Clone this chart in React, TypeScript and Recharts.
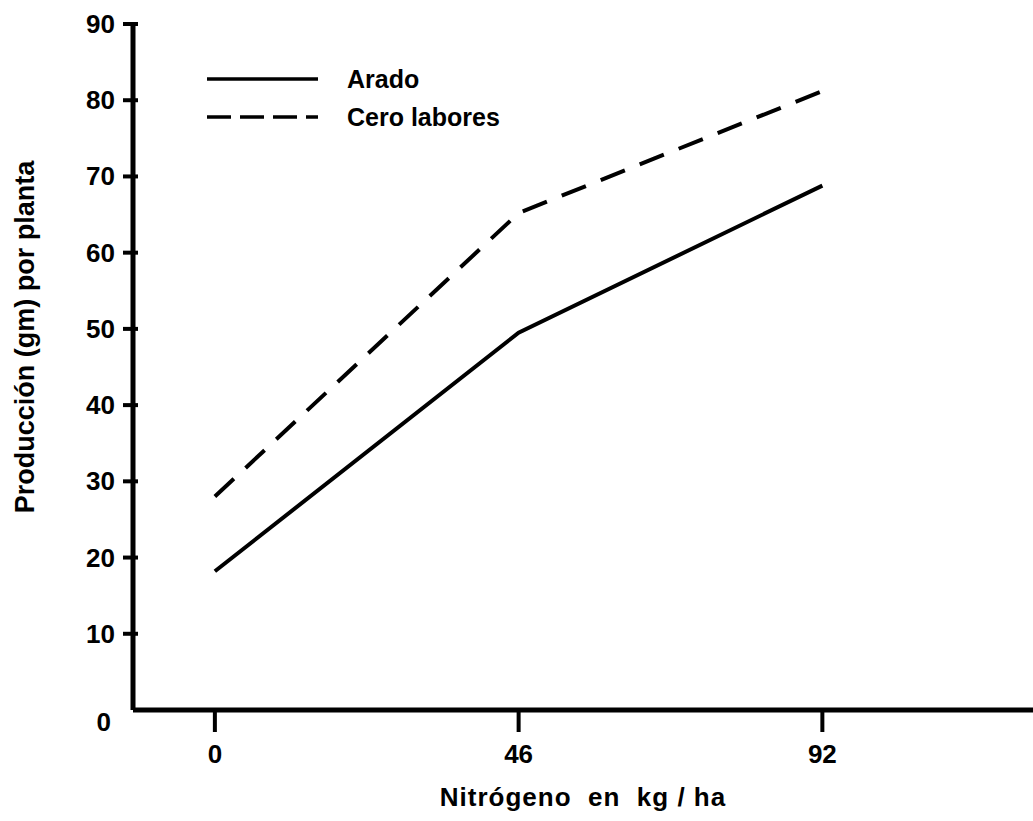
import { LineChart, Line, XAxis, YAxis } from 'recharts';

const nitrogen = [0, 46, 92];
const arado = [18.2, 49.5, 68.8];
const ceroLabores = [28, 65.2, 81.2];
const yTicks = [0, 10, 20, 30, 40, 50, 60, 70, 80, 90];
const xTicks = [0, 46, 92];
const seriesNames = ['Arado', 'Cero labores'];

const data = nitrogen.map((n, i) => ({ n, arado: arado[i], cero: ceroLabores[i] }));

const FONT = '"Liberation Sans", Arial, sans-serif';

const YTick = ({ x, y, payload }: any) => {
    const isZero = payload.value === 0;
    return (
        <g>
            {!isZero && <line x1={x - 2} y1={y} x2={x + 13} y2={y} stroke="#000" strokeWidth={4} />}
            <text
                x={isZero ? x - 14 : x - 10}
                y={isZero ? y + 12 : y}
                textAnchor="end"
                dominantBaseline="central"
                fontFamily={FONT}
                fontWeight="bold"
                fontSize={26}
                fill="#000"
            >
                {payload.value}
            </text>
        </g>
    );
};

const XTick = ({ x, y, payload }: any) => (
    <g>
        <line x1={x} y1={y - 6} x2={x} y2={y + 14} stroke="#000" strokeWidth={4} />
        <text
            x={x}
            y={y + 36}
            textAnchor="middle"
            dominantBaseline="central"
            fontFamily={FONT}
            fontWeight="bold"
            fontSize={26}
            fill="#000"
        >
            {payload.value}
        </text>
    </g>
);

// legend drawn over the chart, in the top-left corner of the plot
const ChartLegend = () => (
    <svg
        width={360}
        height={70}
        style={{ position: 'absolute', left: 205, top: 65, fontFamily: FONT }}
    >
        <line x1={2} y1={14} x2={113} y2={14} stroke="#000" strokeWidth={3.5} />
        <text x={142} y={14} dominantBaseline="central" fontWeight="bold" fontSize={25}>{seriesNames[0]}</text>
        <line x1={2} y1={52} x2={113} y2={52} stroke="#000" strokeWidth={3.5} strokeDasharray="24 9" />
        <text x={142} y={52} dominantBaseline="central" fontWeight="bold" fontSize={25}>{seriesNames[1]}</text>
    </svg>
);

export default function App() {
    return (
        <div style={{ position: 'absolute', left: 0, top: 0, background: '#fff' }}>
            <LineChart
                width={1033}
                height={821}
                data={data}
                margin={{ top: 24, right: 0, bottom: 51, left: 0 }}
            >
                <XAxis
                    dataKey="n"
                    type="number"
                    domain={[-12.4, 123.9]}
                    ticks={xTicks}
                    tick={<XTick />}
                    tickLine={false}
                    axisLine={{ stroke: '#000', strokeWidth: 5 }}
                    height={60}
                    allowDataOverflow
                    label={{
                        value: 'Nitrógeno\u00a0 en\u00a0 kg / ha',
                        position: 'insideBottom',
                        offset: -36,
                        dx: 0,
                        style: { fontFamily: FONT, fontWeight: 'bold', fontSize: 26, letterSpacing: 1, fill: '#000' },
                    }}
                />
                <YAxis
                    type="number"
                    domain={[0, 90]}
                    ticks={yTicks}
                    tick={<YTick />}
                    tickLine={false}
                    axisLine={{ stroke: '#000', strokeWidth: 5 }}
                    width={133}
                    label={{
                        value: 'Producción (gm) por planta',
                        angle: -90,
                        position: 'insideLeft',
                        offset: 0,
                        dx: 24,
                        dy: -30,
                        style: { fontFamily: FONT, fontSize: 27, fontWeight: 'bold', fill: '#000', textAnchor: 'middle' },
                    }}
                />
                <Line
                    dataKey="arado"
                    name={seriesNames[0]}
                    stroke="#000"
                    strokeWidth={4}
                    dot={false}
                    type="linear"
                    isAnimationActive={false}
                />
                <Line
                    dataKey="cero"
                    name={seriesNames[1]}
                    stroke="#000"
                    strokeWidth={4}
                    strokeDasharray="26 16"
                    dot={false}
                    type="linear"
                    isAnimationActive={false}
                />
            </LineChart>
            <ChartLegend />
        </div>
    );
}
